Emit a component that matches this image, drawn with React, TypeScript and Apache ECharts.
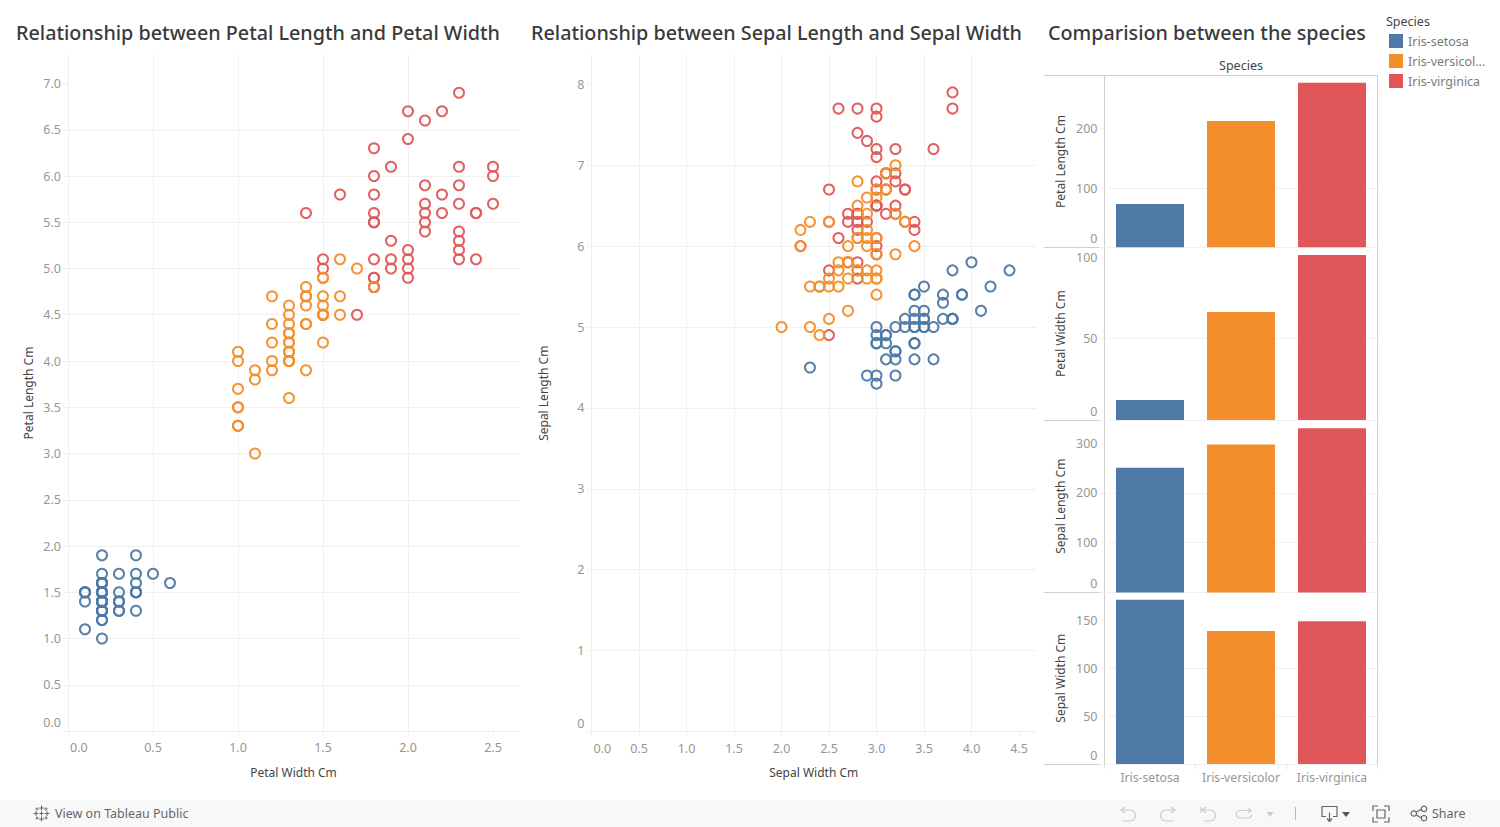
import React, { useEffect, useRef } from "react";
import * as echarts from "echarts";

const FONT = "'Noto Sans', sans-serif";
const BLUE = "#4e79a7";
const ORANGE = "#f28e2b";
const RED = "#e15759";
const GRID = "#f0f0f0";
const FRAME = "#cfcfcf";
const TICK = "#969696";
const NAME = "#444444";

const speciesNames = ["Iris-setosa", "Iris-versicolor", "Iris-virginica"];

// [sepal length, sepal width, petal length, petal width]
const setosa = [
  [5.1,3.5,1.4,0.2],[4.9,3.0,1.4,0.2],[4.7,3.2,1.3,0.2],[4.6,3.1,1.5,0.2],[5.0,3.6,1.4,0.2],
  [5.4,3.9,1.7,0.4],[4.6,3.4,1.4,0.3],[5.0,3.4,1.5,0.2],[4.4,2.9,1.4,0.2],[4.9,3.1,1.5,0.1],
  [5.4,3.7,1.5,0.2],[4.8,3.4,1.6,0.2],[4.8,3.0,1.4,0.1],[4.3,3.0,1.1,0.1],[5.8,4.0,1.2,0.2],
  [5.7,4.4,1.5,0.4],[5.4,3.9,1.3,0.4],[5.1,3.5,1.4,0.3],[5.7,3.8,1.7,0.3],[5.1,3.8,1.5,0.3],
  [5.4,3.4,1.7,0.2],[5.1,3.7,1.5,0.4],[4.6,3.6,1.0,0.2],[5.1,3.3,1.7,0.5],[4.8,3.4,1.9,0.2],
  [5.0,3.0,1.6,0.2],[5.0,3.4,1.6,0.4],[5.2,3.5,1.5,0.2],[5.2,3.4,1.4,0.2],[4.7,3.2,1.6,0.2],
  [4.8,3.1,1.6,0.2],[5.4,3.4,1.5,0.4],[5.2,4.1,1.5,0.1],[5.5,4.2,1.4,0.2],[4.9,3.1,1.5,0.1],
  [5.0,3.2,1.2,0.2],[5.5,3.5,1.3,0.2],[4.4,3.0,1.3,0.2],[5.1,3.4,1.5,0.2],[5.0,3.5,1.3,0.3],
  [4.5,2.3,1.3,0.3],[4.4,3.2,1.3,0.2],[5.0,3.5,1.6,0.6],[5.1,3.8,1.9,0.4],[4.8,3.0,1.4,0.3],
  [5.1,3.8,1.6,0.2],[4.6,3.2,1.4,0.2],[5.3,3.7,1.5,0.2],[5.0,3.3,1.4,0.2],
];
const versicolor = [
  [7.0,3.2,4.7,1.4],[6.4,3.2,4.5,1.5],[6.9,3.1,4.9,1.5],[5.5,2.3,4.0,1.3],[6.5,2.8,4.6,1.5],
  [5.7,2.8,4.5,1.3],[6.3,3.3,4.7,1.6],[4.9,2.4,3.3,1.0],[6.6,2.9,4.6,1.3],[5.2,2.7,3.9,1.4],
  [5.0,2.0,3.5,1.0],[5.9,3.0,4.2,1.5],[6.0,2.2,4.0,1.0],[6.1,2.9,4.7,1.4],[5.6,2.9,3.6,1.3],
  [6.7,3.1,4.4,1.4],[5.6,3.0,4.5,1.5],[5.8,2.7,4.1,1.0],[6.2,2.2,4.5,1.5],[5.6,2.5,3.9,1.1],
  [5.9,3.2,4.8,1.8],[6.1,2.8,4.0,1.3],[6.3,2.5,4.9,1.5],[6.1,2.8,4.7,1.2],[6.4,2.9,4.3,1.3],
  [6.6,3.0,4.4,1.4],[6.8,2.8,4.8,1.4],[6.7,3.0,5.0,1.7],[6.0,2.9,4.5,1.5],[5.7,2.6,3.5,1.0],
  [5.5,2.4,3.8,1.1],[5.5,2.4,3.7,1.0],[5.8,2.7,3.9,1.2],[6.0,2.7,5.1,1.6],[5.4,3.0,4.5,1.5],
  [6.0,3.4,4.5,1.6],[6.7,3.1,4.7,1.5],[6.3,2.3,4.4,1.3],[5.6,3.0,4.1,1.3],[5.5,2.5,4.0,1.3],
  [5.5,2.6,4.4,1.2],[6.1,3.0,4.6,1.4],[5.8,2.6,4.0,1.2],[5.0,2.3,3.3,1.0],[5.6,2.7,4.2,1.3],
  [5.7,3.0,4.2,1.2],[5.7,2.9,4.2,1.3],[6.2,2.9,4.3,1.3],[5.1,2.5,3.0,1.1],[5.7,2.8,4.1,1.3],
];
const virginica = [
  [6.3,3.3,6.0,2.5],[5.8,2.7,5.1,1.9],[7.1,3.0,5.9,2.1],[6.3,2.9,5.6,1.8],[6.5,3.0,5.8,2.2],
  [7.6,3.0,6.6,2.1],[4.9,2.5,4.5,1.7],[7.3,2.9,6.3,1.8],[6.7,2.5,5.8,1.8],[7.2,3.6,6.1,2.5],
  [6.5,3.2,5.1,2.0],[6.4,2.7,5.3,1.9],[6.8,3.0,5.5,2.1],[5.7,2.5,5.0,2.0],[5.8,2.8,5.1,2.4],
  [6.4,3.2,5.3,2.3],[6.5,3.0,5.5,1.8],[7.7,3.8,6.7,2.2],[7.7,2.6,6.9,2.3],[6.0,2.2,5.0,1.5],
  [6.9,3.2,5.7,2.3],[5.6,2.8,4.9,2.0],[7.7,2.8,6.7,2.0],[6.3,2.7,4.9,1.8],[6.7,3.3,5.7,2.1],
  [7.2,3.2,6.0,1.8],[6.2,2.8,4.8,1.8],[6.1,3.0,4.9,1.8],[6.4,2.8,5.6,2.1],[7.2,3.0,5.8,1.6],
  [7.4,2.8,6.1,1.9],[7.9,3.8,6.4,2.0],[6.4,2.8,5.6,2.2],[6.3,2.8,5.1,1.5],[6.1,2.6,5.6,1.4],
  [7.7,3.0,6.1,2.3],[6.3,3.4,5.6,2.4],[6.4,3.1,5.5,1.8],[6.0,3.0,4.8,1.8],[6.9,3.1,5.4,2.1],
  [6.7,3.1,5.6,2.4],[6.9,3.1,5.1,2.3],[6.8,3.2,5.9,2.3],[6.7,3.3,5.7,2.5],[6.7,3.0,5.2,2.3],
  [6.3,2.5,5.0,1.9],[6.5,3.0,5.2,2.0],[6.2,3.4,5.4,2.3],[5.9,3.0,5.1,1.8],
];

const petalLengthTotals = [73.2, 213, 277.6];
const petalWidthTotals = [12.2, 66.3, 101.3];
const sepalLengthTotals = [250.3, 296.8, 329.4];
const sepalWidthTotals = [171, 138.5, 148.7];

const petalXTicks = [0, 0.5, 1, 1.5, 2, 2.5];
const petalYTicks = [0, 0.5, 1, 1.5, 2, 2.5, 3, 3.5, 4, 4.5, 5, 5.5, 6, 6.5, 7];
const sepalXTicks = [0, 0.5, 1, 1.5, 2, 2.5, 3, 3.5, 4, 4.5];
const sepalYTicks = [0, 1, 2, 3, 4, 5, 6, 7, 8];

const petalLengthTicks = [0, 100, 200];
const petalWidthTicks = [0, 50, 100];
const sepalLengthTicks = [0, 100, 200, 300];
const sepalWidthTicks = [0, 50, 100, 150];

const icons: Record<string, string> = {
  iconUndo: "M5 0L1 3L5 6M1 3H10A5.5 5.5 0 0 1 10 14H2",
  iconRedo: "M11 0L15 3L11 6M15 3H6A5.5 5.5 0 0 0 6 14H14",
  iconRevert: "M1 0V6M6 0L2 3L6 6M2 3H10A5.5 5.5 0 0 1 10 14H4",
  iconRefresh: "M12 0L15 2.5L12 5M15 2.5H4A3.5 3.5 0 0 0 4 10H12A3.5 3.5 0 0 0 15.5 6.5",
  iconDownload: "M4 10H0V0H15V10H11M7.5 6V14M5 12L7.5 15L10 12",
  iconFull: "M0 5V0H5M11 0H16V5M16 11V16H11M5 16H0V11M4 4H12V12H4Z",
  iconShare: "M5.5 6L10.5 3M5.5 9L10.5 12M5.5 7.5A2.7 2.7 0 1 1 0.1 7.5A2.7 2.7 0 1 1 5.5 7.5ZM15.7 2.8A2.7 2.7 0 1 1 10.3 2.8A2.7 2.7 0 1 1 15.7 2.8ZM15.7 12.2A2.7 2.7 0 1 1 10.3 12.2A2.7 2.7 0 1 1 15.7 12.2Z",
  iconLogo: "M8 0V5M5.5 2.5H10.5M8 11V16M5.5 13.5H10.5M2.5 5.5V10.5M0 8H5M13.5 5.5V10.5M11 8H16M8 6V10M6 8H10M3.5 2V5M2 3.5H5M12.5 2V5M11 3.5H14M3.5 11V14M2 12.5H5M12.5 11V14M11 12.5H14",
};
Object.keys(icons).forEach((k) => {
  echarts.graphic.registerShape(k, echarts.graphic.extendPath(icons[k], {}) as any);
});

function icon(type: string, x: number, y: number, stroke: string, lw = 1.2) {
  return { type, x, y, silent: true, style: { fill: "none", stroke, lineWidth: lw } };
}

function hline(x1: number, x2: number, y: number) {
  return { type: "line", silent: true, shape: { x1, y1: y, x2, y2: y }, style: { stroke: FRAME, lineWidth: 1 } };
}
function vline(x: number, y1: number, y2: number, stroke = FRAME) {
  return { type: "line", silent: true, shape: { x1: x, y1, x2: x, y2 }, style: { stroke, lineWidth: 1 } };
}
function label(x: number, y: number, text: string, fill: string, fontSize = 12, textAlign = "left") {
  return { type: "text", x, y, silent: true, style: { text, fill, fontSize, fontFamily: FONT, textAlign, textVerticalAlign: "middle" } };
}

function numberAxis(gridIndex: number, name: string, max: number, interval: number, ticks: number[], gap: number, isX: boolean, digits: number) {
  return {
    type: "value",
    gridIndex,
    min: 0,
    max,
    interval,
    name,
    nameLocation: "middle",
    nameGap: gap,
    nameTextStyle: { color: NAME, fontSize: 12, fontFamily: FONT },
    axisLine: { show: false },
    axisTick: { show: true, length: 5, inside: false, lineStyle: { color: GRID }, customValues: ticks },
    axisLabel: {
      color: TICK,
      fontSize: 12.5,
      fontFamily: FONT,
      margin: isX ? 10 : 7,
      customValues: ticks,
      formatter: (v: number) => (v === 0 ? `{m|${v.toFixed(digits)}}` : v.toFixed(digits)),
      rich: {
        m: {
          color: TICK,
          fontSize: 12.5,
          fontFamily: FONT,
          padding: isX ? [0, 0, 0, 2] : [0, 0, 2, 0],
        },
      },
      ...(isX ? { alignMinLabel: "left" } : { verticalAlignMinLabel: "bottom" }),
    },
    splitLine: { show: true, showMaxLine: false, lineStyle: { color: GRID, width: 1 } },
  };
}

function scatterSeries(name: string, color: string, rows: number[][], xi: number, yi: number, axisIndex: number) {
  return {
    type: "scatter",
    name,
    xAxisIndex: axisIndex,
    yAxisIndex: axisIndex,
    symbol: "circle",
    symbolSize: 10,
    silent: true,
    itemStyle: { color: "rgba(255,255,255,0)", borderColor: color, borderWidth: 2, opacity: 0.95 },
    data: rows.map((r) => [r[xi], r[yi]]),
  };
}

const barColors = [BLUE, ORANGE, RED];

function barSeries(values: number[], axisIndex: number) {
  return {
    type: "bar",
    xAxisIndex: axisIndex,
    yAxisIndex: axisIndex,
    barWidth: 68,
    silent: true,
    data: values.map((value, i) => ({ value, itemStyle: { color: barColors[i] } })),
  };
}

export default function App() {
  const ref = useRef<HTMLDivElement>(null);
  useEffect(() => {
    document.body.style.margin = "0";
    const chart = echarts.init(ref.current!, null, { renderer: "svg" });

    const barLeft = 1104.5;
    const barWidth = 273;
    const panels = [
      { top: 75.7, bottom: 247.3 },
      { top: 247.3, bottom: 420 },
      { top: 420, bottom: 592.4 },
      { top: 592.4, bottom: 764 },
    ];

    const option: any = {
      animation: false,
      backgroundColor: "#ffffff",
      textStyle: { fontFamily: FONT },
      title: [
        { text: "Relationship between Petal Length and Petal Width", left: 16, top: 22 },
        { text: "Relationship between Sepal Length and Sepal Width", left: 531, top: 22 },
        { text: "Comparision between the species", left: 1048, top: 22 },
      ].map((t) => ({ ...t, padding: 0, textStyle: { color: "#3a3a3a", fontSize: 19.75, fontWeight: 500, fontFamily: FONT } })),
      legend: {
        left: 1389,
        top: 34,
        orient: "vertical",
        itemWidth: 14,
        itemHeight: 14,
        itemGap: 6,
        padding: 0,
        icon: "rect",
        selectedMode: false,
        textStyle: { color: "#7a7a7a", fontSize: 12.5, fontFamily: FONT },
        formatter: (n: string) => (n === "Iris-versicolor" ? "Iris-versicol..." : n),
        data: [
          { name: speciesNames[0], itemStyle: { color: BLUE, borderWidth: 0, opacity: 1 } },
          { name: speciesNames[1], itemStyle: { color: ORANGE, borderWidth: 0, opacity: 1 } },
          { name: speciesNames[2], itemStyle: { color: RED, borderWidth: 0, opacity: 1 } },
        ],
      },
      grid: [
        { left: 68, top: 55, width: 451, height: 676 },
        { left: 591.5, top: 55, width: 444.5, height: 676.5 },
        ...panels.map((p) => ({ left: barLeft, top: p.top, width: barWidth, height: p.bottom - p.top })),
      ],
      xAxis: [
        numberAxis(0, "Petal Width Cm", 451 / 170, 0.5, petalXTicks, 35, true, 1),
        numberAxis(1, "Sepal Width Cm", 444.5 / 95, 0.5, sepalXTicks, 35, true, 1),
        ...panels.map((_, i) => ({
          type: "category",
          gridIndex: i + 2,
          data: speciesNames,
          axisLine: { show: false },
          axisTick: { show: i === 3, length: 5, lineStyle: { color: "#e2e2e2" } },
          axisLabel: { show: i === 3, color: TICK, fontSize: 12.2, fontFamily: FONT, margin: 7, interval: 0 },
        })),
      ],
      yAxis: [
        numberAxis(0, "Petal Length Cm", 676 / 92.5, 0.5, petalYTicks, 34, false, 1),
        numberAxis(1, "Sepal Length Cm", 676.5 / 80.9, 1, sepalYTicks, 42, false, 0),
        numberAxis(2, "Petal Length Cm", 171.6 / 0.593, 100, petalLengthTicks, 38, false, 0),
        numberAxis(3, "Petal Width Cm", 172.7 / 1.63, 50, petalWidthTicks, 38, false, 0),
        numberAxis(4, "Sepal Length Cm", 172.4 / 0.498, 100, sepalLengthTicks, 38, false, 0),
        numberAxis(5, "Sepal Width Cm", 171.6 / 0.96, 50, sepalWidthTicks, 38, false, 0),
      ],
      series: [
        scatterSeries(speciesNames[0], BLUE, setosa, 3, 2, 0),
        scatterSeries(speciesNames[2], RED, virginica, 3, 2, 0),
        scatterSeries(speciesNames[1], ORANGE, versicolor, 3, 2, 0),
        scatterSeries(speciesNames[0], BLUE, setosa, 1, 0, 1),
        scatterSeries(speciesNames[2], RED, virginica, 1, 0, 1),
        scatterSeries(speciesNames[1], ORANGE, versicolor, 1, 0, 1),
        barSeries(petalLengthTotals, 2),
        barSeries(petalWidthTotals, 3),
        barSeries(sepalLengthTotals, 4),
        barSeries(sepalWidthTotals, 5),
      ],
      graphic: [
        label(1241, 65, "Species", NAME, 12.5, "center"),
        label(1386, 21, "Species", NAME, 12.5, "left"),
        hline(1044, 1378, 75.5),
        hline(1044, 1378, 247.5),
        hline(1044, 1378, 420.5),
        hline(1044, 1378, 592.5),
        hline(1044, 1378, 764.5),
        vline(1104.5, 75.5, 764.5),
        vline(1377.5, 75.5, 764.5),
        {
          type: "rect",
          silent: true,
          z: -1,
          shape: { x: 0, y: 800, width: 1500, height: 27 },
          style: { fill: "#f8f8f8" },
        },
        icon("iconLogo", 33.5, 805.5, "#666666", 1),
        label(55, 813.5, "View on Tableau Public", "#666666", 12.5),
        icon("iconUndo", 1120, 807, "#cccccc"),
        icon("iconRedo", 1160, 807, "#cccccc"),
        icon("iconRevert", 1200, 807, "#cccccc"),
        icon("iconRefresh", 1236, 808, "#cccccc"),
        { type: "polygon", silent: true, shape: { points: [[1266.5, 812], [1273.5, 812], [1270, 817]] }, style: { fill: "#cccccc" } },
        vline(1295.5, 807, 820, "#b8b8b8"),
        icon("iconDownload", 1322, 806.5, "#666666"),
        { type: "polygon", silent: true, shape: { points: [[1342, 812], [1350, 812], [1346, 817]] }, style: { fill: "#555555" } },
        icon("iconFull", 1373, 806, "#666666"),
        icon("iconShare", 1411, 806, "#666666"),
        label(1432, 813.5, "Share", "#666666", 12.5),
      ],
    };

    chart.setOption(option);
    return () => chart.dispose();
  }, []);
  return <div ref={ref} style={{ position: "absolute", left: 0, top: 0, width: 1500, height: 827 }} />;
}
